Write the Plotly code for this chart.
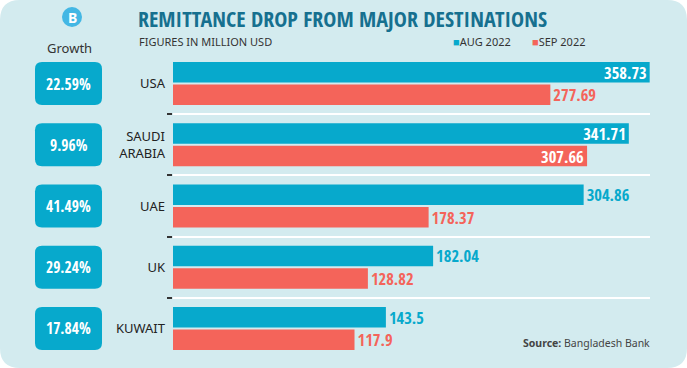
import plotly.graph_objects as go

# ---- data ----
countries = ["USA", "SAUDI<br>ARABIA", "UAE", "UK", "KUWAIT"]
aug_2022 = [358.73, 341.71, 304.86, 182.04, 143.5]
sep_2022 = [277.69, 307.66, 178.37, 128.82, 117.9]
growth_pct = [22.59, 9.96, 41.49, 29.24, 17.84]
series_names = ["AUG 2022", "SEP 2022"]

# ---- style ----
W, H = 687, 368
ML, MR, MT, MB = 173, 37, 56, 12
PW, PH = W - ML - MR, H - MT - MB
PANEL = "#d3ebef"
TEAL = "#07a9cc"
RED = "#f4645a"
TITLE_C = "#16708f"
COND = "Open Sans Condensed, Roboto Condensed, sans-serif"
SANS = "Noto Sans, Open Sans, sans-serif"
BAR_BASE = -30.2          # bars in the original start a little left of zero
XR = [BAR_BASE, 359.0]
YR = [4.45, -0.45]


def px2x(px):
    return (px - ML) / PW


def py2y(py):
    return 1 - (py - MT) / PH


def cat2py(i):
    return MT + (i - YR[1]) * PH / (YR[0] - YR[1])


def rrect(x0, y0, x1, y1, r):
    pts = [
        ("M", x0 + r, y0), ("L", x1 - r, y0), ("Q", x1, y0, x1, y0 + r),
        ("L", x1, y1 - r), ("Q", x1, y1, x1 - r, y1), ("L", x0 + r, y1),
        ("Q", x0, y1, x0, y1 - r), ("L", x0, y0 + r), ("Q", x0, y0, x0 + r, y0),
    ]
    s = ""
    for p in pts:
        coords = p[1:]
        parts = [f"{px2x(coords[k]):.5f},{py2y(coords[k+1]):.5f}" for k in range(0, len(coords), 2)]
        s += p[0] + " " + " ".join(parts) + " "
    return s + "Z"


def add_series(values, name, color, positions):
    fig.add_trace(go.Bar(
        y=countries, x=[v - BAR_BASE for v in values], base=BAR_BASE,
        orientation="h", name=name,
        marker=dict(color=color, line=dict(width=0)),
        text=[str(v) for v in values],
        textposition=positions,
        insidetextanchor="end", constraintext="none", cliponaxis=False,
        insidetextfont=dict(family=COND, size=16.5, color="white", weight="bold"),
        outsidetextfont=dict(family=COND, size=16.5, color=color, weight="bold"),
        hoverinfo="skip",
    ))


fig = go.Figure()
add_series(aug_2022, series_names[0], TEAL, ["inside", "inside", "outside", "outside", "outside"])
add_series(sep_2022, series_names[1], RED, ["outside", "inside", "outside", "outside", "outside"])

shapes = [
    dict(type="path", xref="paper", yref="paper", path=rrect(0, 0, W, H, 20),
         fillcolor=PANEL, line=dict(width=0), layer="below"),
    dict(type="circle", xref="paper", yref="paper",
         x0=px2x(62), x1=px2x(82), y0=py2y(7), y1=py2y(27),
         fillcolor="#43b7e4", line=dict(width=0), layer="below"),
]
annotations = [
    dict(text="B", x=px2x(72), y=py2y(17.5), xref="paper", yref="paper",
         showarrow=False, xanchor="center", yanchor="middle",
         font=dict(family=SANS, size=14, color="white", weight="bold")),
    dict(text="REMITTANCE DROP FROM MAJOR DESTINATIONS", x=px2x(136), y=py2y(18),
         xref="paper", yref="paper", showarrow=False, xanchor="left", yanchor="middle",
         font=dict(family=COND, size=22, color=TITLE_C, weight="bold")),
    dict(text="FIGURES IN MILLION USD", x=px2x(137), y=py2y(41.5),
         xref="paper", yref="paper", showarrow=False, xanchor="left", yanchor="middle",
         font=dict(family=SANS, size=11, color="#333333")),
    dict(text="Growth", x=px2x(69), y=py2y(48), xref="paper", yref="paper",
         showarrow=False, xanchor="center", yanchor="middle",
         font=dict(family=SANS, size=13, color="#333333")),
    dict(text=f"<span style='color:{TEAL}'>■</span>{series_names[0]}", x=px2x(451), y=py2y(41.5),
         xref="paper", yref="paper", showarrow=False, xanchor="left", yanchor="middle",
         font=dict(family=SANS, size=11, color="#333333")),
    dict(text=f"<span style='color:{RED}'>■</span>{series_names[1]}", x=px2x(530), y=py2y(41.5),
         xref="paper", yref="paper", showarrow=False, xanchor="left", yanchor="middle",
         font=dict(family=SANS, size=11, color="#333333")),
    dict(text="<b>Source:</b> Bangladesh Bank", x=px2x(652), y=py2y(343),
         xref="paper", yref="paper", showarrow=False, xanchor="right", yanchor="middle",
         font=dict(family=SANS, size=10.5, color="#444444")),
]

for i, g in enumerate(growth_pct):
    cy = cat2py(i)
    shapes.append(dict(type="path", xref="paper", yref="paper",
                       path=rrect(35, cy - 21.5, 102, cy + 21.5, 7),
                       fillcolor=TEAL, line=dict(width=0), layer="below"))
    annotations.append(dict(text=f"{g:.2f}%", x=px2x(68.5), y=py2y(cy),
                            xref="paper", yref="paper", showarrow=False,
                            xanchor="center", yanchor="middle",
                            font=dict(family=COND, size=15.5, color="white", weight="bold")))

fig.update_layout(
    width=W, height=H,
    margin=dict(l=ML, r=MR, t=MT, b=MB, pad=0, autoexpand=False),
    paper_bgcolor="white", plot_bgcolor="rgba(0,0,0,0)",
    barmode="group", bargap=0.265, bargroupgap=0.09,
    showlegend=False,
    shapes=shapes, annotations=annotations,
    xaxis=dict(range=XR, visible=False, showgrid=False, zeroline=False,
               fixedrange=True, automargin=False),
    yaxis=dict(range=YR, type="category", tickson="boundaries", showgrid=True,
               gridcolor="white", gridwidth=1.5, ticks="outside", ticklen=5,
               tickcolor="#333333", tickwidth=1.5, showline=False, zeroline=False,
               automargin=False, ticklabelstandoff=7,
               tickfont=dict(family=SANS, size=13, color="#222222"), fixedrange=True),
)

fig.write_html("out.html", config={"displayModeBar": False},
               post_script="document.body.style.margin='0';")
